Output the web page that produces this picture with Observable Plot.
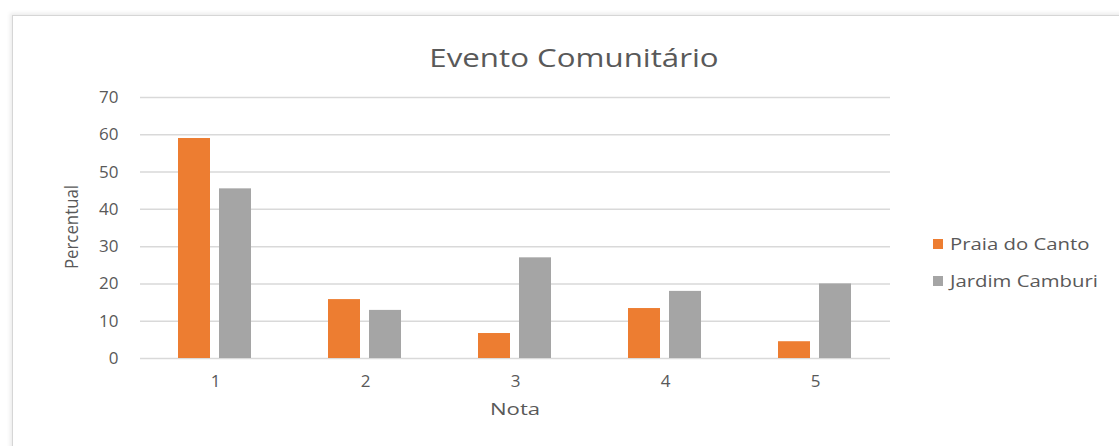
<!DOCTYPE html>
<html>
<head>
<meta charset="utf-8">
<script src="https://cdn.jsdelivr.net/npm/d3@7"></script>
<script src="https://cdn.jsdelivr.net/npm/@observablehq/plot@0.6"></script>
<style>
  html, body { margin: 0; padding: 0; background: #fff; }
  body { width: 1119px; height: 446px; position: relative; overflow: hidden; font-family: "Open Sans", sans-serif; color: #595959; }
  #frame { position: absolute; left: 12px; top: 15px; width: 1130px; height: 460px; border: 1px solid #d6d6d6; box-shadow: -2px -2px 4px rgba(0,0,0,0.08); }
  #chart { position: absolute; left: 0; top: 0; }
  #title { position: absolute; top: 40px; left: 574px; transform: translateX(-50%) scaleX(1.25); font-size: 25px; color: #595959; white-space: nowrap; }
  #ylabel { position: absolute; left: 71px; top: 227px; transform: translate(-50%, -50%) rotate(-90deg) scaleX(1.05) scaleY(1.1); font-size: 16px; white-space: nowrap; color: #595959; }
  #xlabel { position: absolute; left: 515px; top: 397px; transform: translateX(-50%) scaleX(1.3); font-size: 17px; color: #595959; }
  #legend { position: absolute; left: 933px; top: 232px; font-size: 16px; color: #595959; }
  .item { display: flex; align-items: center; height: 24px; margin-bottom: 13px; white-space: nowrap; }
  .sw { width: 10px; height: 10px; margin-right: 7px; flex: none; }
  .lt { display: inline-block; transform: scaleX(1.27); transform-origin: left center; }
</style>
</head>
<body>
<div id="frame"></div>
<div id="chart"></div>
<div id="title">Evento Comunitário</div>
<div id="ylabel">Percentual</div>
<div id="xlabel">Nota</div>
<div id="legend"></div>
<script>
const notas = ["1", "2", "3", "4", "5"];
const series = ["Praia do Canto", "Jardim Camburi"];
const praiaDoCanto = [59, 15.8, 6.7, 13.4, 4.5];
const jardimCamburi = [45.5, 12.9, 27, 18, 20];
const colors = ["#ED7D31", "#A5A5A5"];
const yTicks = [0, 10, 20, 30, 40, 50, 60, 70];

const data = [];
notas.forEach((n, i) => {
  data.push({nota: n, serie: series[0], valor: praiaDoCanto[i]});
  data.push({nota: n, serie: series[1], valor: jardimCamburi[i]});
});

const chart = Plot.plot({
  width: 1119,
  height: 446,
  marginLeft: 140,
  marginRight: 229,
  marginTop: 97,
  marginBottom: 88,
  style: {fontFamily: "'Open Sans', sans-serif", fontSize: "17px", color: "#595959", background: "transparent"},
  fx: {domain: notas, padding: 0, label: null, tickSize: 0, tickPadding: 16, axis: "bottom"},
  x: {domain: series, paddingInner: 0.214, paddingOuter: 0.893, axis: null},
  y: {domain: [0, 70], ticks: yTicks, tickSize: 0, tickPadding: 22, label: null},
  color: {domain: series, range: colors},
  marks: [
    Plot.gridY(yTicks, {stroke: "#d9d9d9", strokeOpacity: 1, strokeWidth: 1.5}),
    Plot.barY(data, {fx: "nota", x: "serie", y: "valor", fill: "serie"})
  ]
});
document.getElementById("chart").appendChild(chart);

const legend = document.getElementById("legend");
series.forEach((s, i) => {
  const item = document.createElement("div");
  item.className = "item";
  const sw = document.createElement("span");
  sw.className = "sw";
  sw.style.background = colors[i];
  const t = document.createElement("span");
  t.className = "lt";
  t.textContent = s;
  item.appendChild(sw);
  item.appendChild(t);
  legend.appendChild(item);
});
</script>
</body>
</html>
